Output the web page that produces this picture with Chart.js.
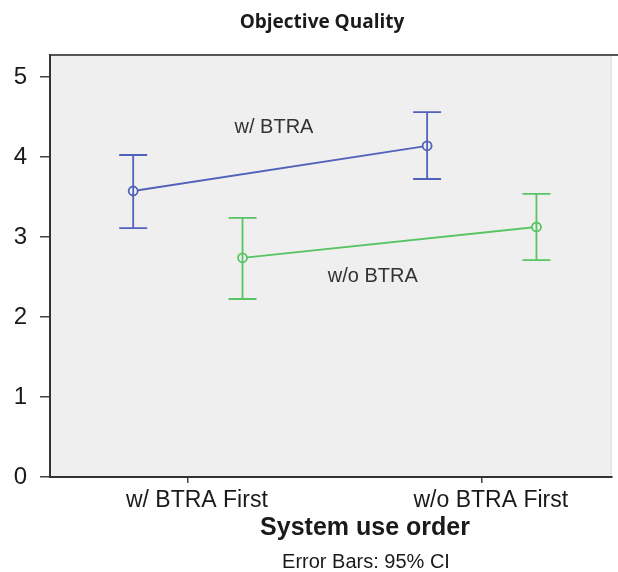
<!DOCTYPE html>
<html lang="en">
<head>
    <meta charset="UTF-8">
    <title>Objective Quality</title>
    <style>
        body {
            margin: 0;
            background-color: #ffffff;
        }
        .chart-container {
            width: 618px;
            height: 572px;
        }
    </style>
    <script src="https://cdn.jsdelivr.net/npm/chart.js"></script>
</head>
<body>
    <div class="chart-container">
        <canvas id="qualityChart" width="618" height="572"></canvas>
    </div>

    <script>
        // datos
        const categorias = ['w/ BTRA First', 'w/o BTRA First'];
        const ticksY = [0, 1, 2, 3, 4, 5];

        const conBtraMedia = [3.575, 4.14];
        const conBtraSup = [4.025, 4.56];
        const conBtraInf = [3.11, 3.725];

        const sinBtraMedia = [2.74, 3.125];
        const sinBtraSup = [3.24, 3.54];
        const sinBtraInf = [2.225, 2.71];

        const nombresSeries = ['w/ BTRA', 'w/o BTRA'];

        // separacion de cada serie dentro de la categoria
        const desplazamiento = 0.186;
        const etiquetaPos = [
            { x: 0.293, y: 4.375 },
            { x: 0.629, y: 2.51 }
        ];

        const azul = '#5262bb';
        const verde = '#58c463';
        const fondo = '#efefef';

        function puntos(medias, delta) {
            return medias.map((m, i) => ({ x: i + delta, y: m }));
        }

        const errorBars = {
            id: 'errorBars',
            afterDatasetsDraw(chart) {
                const ctx = chart.ctx;
                const xs = chart.scales.x;
                const ys = chart.scales.y;
                chart.data.datasets.forEach((ds) => {
                    ctx.save();
                    ctx.strokeStyle = ds.borderColor;
                    ctx.lineWidth = 1.8;
                    ds.data.forEach((p, i) => {
                        const px = xs.getPixelForValue(p.x);
                        const top = ys.getPixelForValue(ds.sup[i]);
                        const bot = ys.getPixelForValue(ds.inf[i]);
                        ctx.beginPath();
                        ctx.moveTo(px, top);
                        ctx.lineTo(px, bot);
                        ctx.moveTo(px - 14, top);
                        ctx.lineTo(px + 14, top);
                        ctx.moveTo(px - 14, bot);
                        ctx.lineTo(px + 14, bot);
                        ctx.stroke();
                    });
                    ctx.restore();
                });
            }
        };

        const marco = {
            id: 'marco',
            beforeDraw(chart) {
                const { ctx, chartArea: a } = chart;
                ctx.save();
                ctx.fillStyle = fondo;
                ctx.fillRect(a.left, a.top, a.right - a.left, a.bottom - a.top);
                ctx.strokeStyle = '#dcdcdc';
                ctx.lineWidth = 1;
                ctx.beginPath();
                ctx.moveTo(a.right - 0.5, a.top);
                ctx.lineTo(a.right - 0.5, a.bottom);
                ctx.stroke();
                ctx.strokeStyle = '#555555';
                ctx.lineWidth = 2;
                ctx.beginPath();
                ctx.moveTo(a.left, a.top);
                ctx.lineTo(618, a.top);
                ctx.stroke();
                ctx.restore();
            },
            afterDraw(chart) {
                const ctx = chart.ctx;
                const xs = chart.scales.x;
                const ys = chart.scales.y;
                ctx.save();
                ctx.fillStyle = '#1a1a1a';
                ctx.textAlign = 'center';
                ctx.textBaseline = 'middle';

                ctx.font = 'bold 19px "Open Sans", sans-serif';
                ctx.fillText('Objective Quality', 322, 23);

                ctx.font = 'bold 25px "Liberation Sans", Arial, sans-serif';
                ctx.fillText('System use order', 365, 528);

                ctx.font = '20px "Liberation Sans", Arial, sans-serif';
                ctx.fillText('Error Bars: 95% CI', 366, 562);

                ctx.fillStyle = '#333333';
                etiquetaPos.forEach((pos, i) => {
                    ctx.fillText(nombresSeries[i], xs.getPixelForValue(pos.x), ys.getPixelForValue(pos.y));
                });
                ctx.restore();
            }
        };

        new Chart(document.getElementById('qualityChart'), {
            type: 'scatter',
            data: {
                datasets: [{
                    label: nombresSeries[0],
                    data: puntos(conBtraMedia, -desplazamiento),
                    sup: conBtraSup,
                    inf: conBtraInf,
                    borderColor: azul,
                    backgroundColor: fondo,
                    showLine: true,
                    borderWidth: 1.8,
                    pointRadius: 4.5,
                    pointBorderWidth: 1.8
                }, {
                    label: nombresSeries[1],
                    data: puntos(sinBtraMedia, desplazamiento),
                    sup: sinBtraSup,
                    inf: sinBtraInf,
                    borderColor: verde,
                    backgroundColor: fondo,
                    showLine: true,
                    borderWidth: 1.8,
                    pointRadius: 4.5,
                    pointBorderWidth: 1.8
                }]
            },
            options: {
                responsive: false,
                animation: false,
                layout: {
                    padding: { top: 55, right: 6, bottom: 0, left: 0 }
                },
                plugins: {
                    legend: { display: false },
                    tooltip: { enabled: false }
                },
                scales: {
                    x: {
                        type: 'linear',
                        min: -0.469,
                        max: 1.442,
                        afterFit(scale) { scale.height = 95; },
                        afterBuildTicks(scale) {
                            scale.ticks = categorias.map((c, i) => ({ value: i }));
                        },
                        ticks: {
                            autoSkip: false,
                            maxRotation: 0,
                            padding: 4,
                            labelOffset: 9,
                            color: '#1a1a1a',
                            font: { family: '"Liberation Sans", Arial, sans-serif', size: 23 },
                            callback: (v) => categorias[v]
                        },
                        grid: {
                            drawOnChartArea: false,
                            drawTicks: true,
                            tickLength: 6,
                            color: '#444444',
                            lineWidth: 1.5
                        },
                        border: { display: true, color: '#333333', width: 2 }
                    },
                    y: {
                        min: 0,
                        max: 5.275,
                        afterFit(scale) { scale.width = 50; },
                        afterBuildTicks(scale) {
                            scale.ticks = ticksY.map((v) => ({ value: v }));
                        },
                        ticks: {
                            padding: 13,
                            color: '#1a1a1a',
                            font: { family: '"Liberation Sans", Arial, sans-serif', size: 24 }
                        },
                        grid: {
                            drawOnChartArea: false,
                            drawTicks: true,
                            tickLength: 10,
                            color: '#444444',
                            lineWidth: 1.5
                        },
                        border: { display: true, color: '#333333', width: 2 }
                    }
                }
            },
            plugins: [marco, errorBars]
        });
    </script>
</body>
</html>
